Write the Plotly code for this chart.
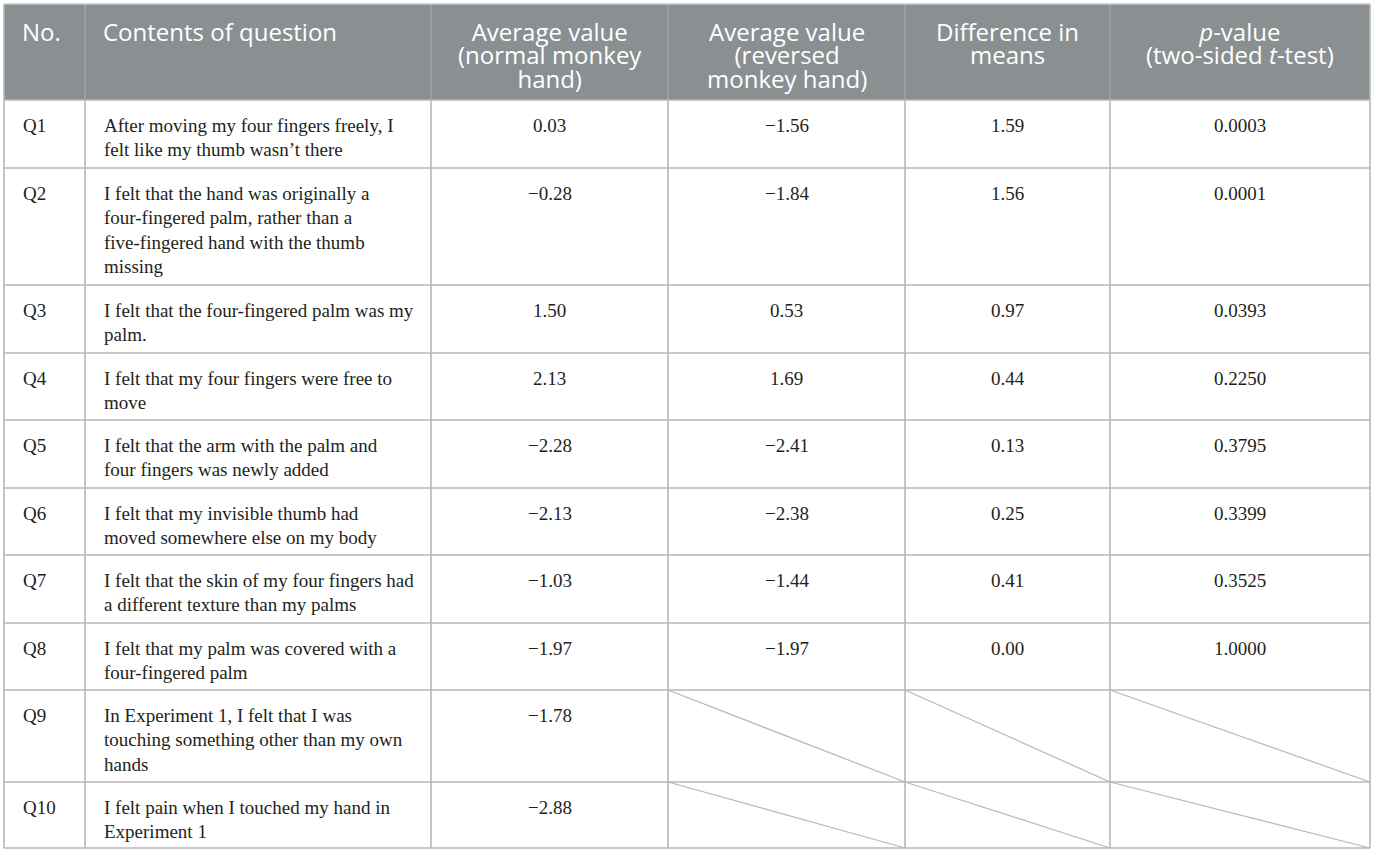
import plotly.graph_objects as go

# ---- table content ----
header_lines = [
    ["No."],
    ["Contents of question"],
    ["Average value", "(normal monkey", "hand)"],
    ["Average value", "(reversed", "monkey hand)"],
    ["Difference in", "means"],
    ["<i>p</i>-value", "(two-sided <i>t</i>-test)"],
]

question_ids = ["Q1", "Q2", "Q3", "Q4", "Q5", "Q6", "Q7", "Q8", "Q9", "Q10"]

question_text = [
    ["After moving my four fingers freely, I", "felt like my thumb wasn’t there"],
    ["I felt that the hand was originally a", "four-fingered palm, rather than a",
     "five-fingered hand with the thumb", "missing"],
    ["I felt that the four-fingered palm was my", "palm."],
    ["I felt that my four fingers were free to", "move"],
    ["I felt that the arm with the palm and", "four fingers was newly added"],
    ["I felt that my invisible thumb had", "moved somewhere else on my body"],
    ["I felt that the skin of my four fingers had", "a different texture than my palms"],
    ["I felt that my palm was covered with a", "four-fingered palm"],
    ["In Experiment 1, I felt that I was", "touching something other than my own", "hands"],
    ["I felt pain when I touched my hand in", "Experiment 1"],
]

avg_normal = [0.03, -0.28, 1.50, 2.13, -2.28, -2.13, -1.03, -1.97, -1.78, -2.88]
avg_reversed = [-1.56, -1.84, 0.53, 1.69, -2.41, -2.38, -1.44, -1.97, None, None]
diff_means = [1.59, 1.56, 0.97, 0.44, 0.13, 0.25, 0.41, 0.00, None, None]
p_values = [0.0003, 0.0001, 0.0393, 0.2250, 0.3795, 0.3399, 0.3525, 1.0000, None, None]

# ---- layout geometry (pixels) ----
W, H = 1376, 855
col_edges = [4, 85, 431, 668, 905, 1110, 1370]
row_edges = [4, 100, 168, 285, 353, 420, 488, 555, 623, 690, 782, 848]

HEADER_FILL = "#8a8f92"
HEADER_RULE = "#a7abae"
GRID = "#b7b7b7"
TEXT = "#231f20"
SANS = "Open Sans, Lato, sans-serif"
SERIF = "Liberation Serif, Times New Roman, serif"


def fmt(v, nd):
    return f"{v:.{nd}f}".replace("-", "\u2212")


fig = go.Figure(go.Scatter(x=[], y=[], hoverinfo="skip", showlegend=False))
shapes = []
annotations = []

# header background
shapes.append(dict(type="rect", xref="x", yref="y", x0=col_edges[0], x1=col_edges[-1],
                   y0=row_edges[0], y1=row_edges[1], fillcolor=HEADER_FILL,
                   line=dict(width=0), layer="below"))

# header text: base size 18 sets the (tight) line spacing, glyphs drawn at 24px
for c, lines in enumerate(header_lines):
    left = c < 2
    x = col_edges[c] + 16 if left else (col_edges[c] + col_edges[c + 1]) / 2
    text = "<br>".join(f"<span style='font-size:24px'>{ln}</span>" for ln in lines)
    annotations.append(dict(
        x=x, y=row_edges[0] + 9, xref="x", yref="y", text=text,
        showarrow=False, xanchor="left" if left else "center", yanchor="top",
        align="left" if left else "center", valign="top",
        font=dict(family=SANS, size=18, color="white")))

# body text
columns = [
    [[q] for q in question_ids],
    question_text,
    [[fmt(v, 2)] for v in avg_normal],
    [[fmt(v, 2)] if v is not None else None for v in avg_reversed],
    [[fmt(v, 2)] if v is not None else None for v in diff_means],
    [[fmt(v, 4)] if v is not None else None for v in p_values],
]
for c, col in enumerate(columns):
    left = c < 2
    x = col_edges[c] + 17 if left else (col_edges[c] + col_edges[c + 1]) / 2
    for r, lines in enumerate(col):
        top = row_edges[r + 1]
        if lines is None:
            # empty cell: diagonal strike
            shapes.append(dict(type="line", xref="x", yref="y",
                               x0=col_edges[c], y0=top, x1=col_edges[c + 1], y1=row_edges[r + 2],
                               line=dict(color=GRID, width=1.2)))
            continue
        for i, line in enumerate(lines):
            annotations.append(dict(
                x=x, y=top + 25 + i * 24.5, xref="x", yref="y", text=line,
                showarrow=False, xanchor="left" if left else "center", yanchor="middle",
                font=dict(family=SERIF, size=19, color=TEXT)))

# grid lines
for i, xe in enumerate(col_edges):
    y_start = row_edges[0] if i in (0, len(col_edges) - 1) else row_edges[1]
    shapes.append(dict(type="line", xref="x", yref="y", x0=xe, x1=xe,
                       y0=y_start, y1=row_edges[-1], line=dict(color=GRID, width=1.6)))
    if 0 < i < len(col_edges) - 1:
        shapes.append(dict(type="line", xref="x", yref="y", x0=xe, x1=xe,
                           y0=row_edges[0], y1=row_edges[1], line=dict(color=HEADER_RULE, width=1.2)))
for ye in row_edges:
    shapes.append(dict(type="line", xref="x", yref="y", x0=col_edges[0], x1=col_edges[-1],
                       y0=ye, y1=ye, line=dict(color=GRID if ye != row_edges[0] else "#c8c8c8", width=1.6)))

fig.update_layout(
    width=W, height=H,
    margin=dict(l=0, r=0, t=0, b=0),
    paper_bgcolor="white", plot_bgcolor="white",
    xaxis=dict(range=[0, W], visible=False, fixedrange=True),
    yaxis=dict(range=[H, 0], visible=False, fixedrange=True),
    shapes=shapes, annotations=annotations,
    showlegend=False,
)

# drop the default page margin so the figure sits at the window's corner
fig.write_html("out.html", config={"displayModeBar": False},
               post_script="document.body.style.margin='0';document.body.style.overflow='hidden';")
